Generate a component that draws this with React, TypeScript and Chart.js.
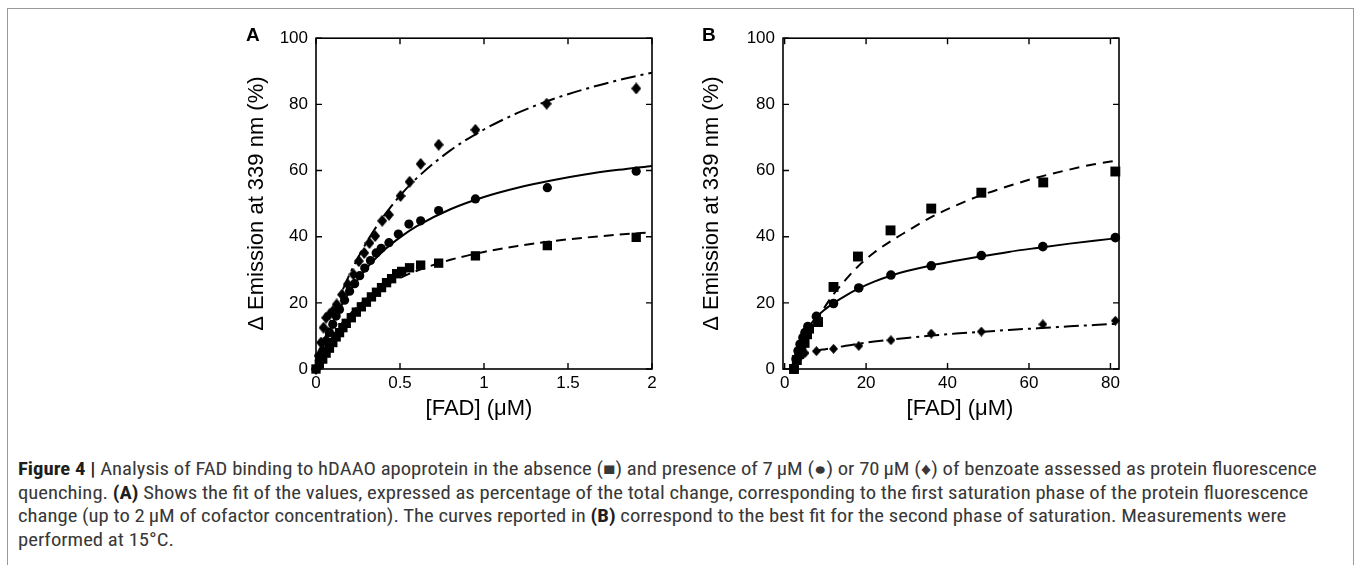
import React, { useEffect, useLayoutEffect, useRef } from "react";
import { Chart, registerables } from "chart.js";

Chart.register(...registerables);

const FONT = '"Liberation Sans", Arial, Helvetica, sans-serif';

// ---- tick labels ----
const Y_TICKS = [0, 20, 40, 60, 80, 100];
const A_X_TICKS = [0, 0.5, 1, 1.5, 2];
const B_X_TICKS = [0, 20, 40, 60, 80];

// ---- Panel A: measured points ----
const A_SQ_X = [0, 0.02, 0.04, 0.06, 0.08, 0.1, 0.12, 0.14, 0.16, 0.18, 0.21, 0.24, 0.27, 0.3, 0.33, 0.36, 0.39, 0.42, 0.45, 0.48, 0.51, 0.557, 0.623, 0.73, 0.949, 1.377, 1.906];
const A_SQ_Y = [0, 1.5, 3, 4.8, 6.3, 8, 9.7, 11, 12.5, 13.8, 15.5, 17.2, 18.8, 20.2, 21.8, 23.2, 24.6, 26.1, 27.3, 28.8, 29.5, 30.6, 31.4, 32.0, 34.2, 37.3, 39.8];

const A_CI_X = [0, 0.02, 0.04, 0.06, 0.08, 0.1, 0.12, 0.14, 0.17, 0.2, 0.23, 0.26, 0.29, 0.324, 0.358, 0.388, 0.434, 0.49, 0.553, 0.623, 0.73, 0.949, 1.377, 1.906];
const A_CI_Y = [0, 2.5, 5.5, 8.5, 11, 13.5, 16, 18, 20.8, 23.5, 25.8, 28.2, 30.5, 32.8, 35.1, 36.5, 38.2, 40.8, 43.8, 44.8, 47.9, 51.4, 54.8, 59.8];

const A_DI_X = [0, 0.015, 0.03, 0.045, 0.06, 0.08, 0.1, 0.123, 0.155, 0.189, 0.223, 0.255, 0.287, 0.318, 0.352, 0.394, 0.434, 0.503, 0.557, 0.623, 0.73, 0.949, 1.373, 1.906];
const A_DI_Y = [0, 4, 8, 12.5, 15.5, 16.5, 17.5, 19.5, 22.5, 25.6, 28.6, 32.6, 35.1, 38.1, 40.2, 44.8, 46.6, 52.3, 56.6, 62, 67.8, 72.3, 80.2, 84.8];

// ---- Panel A: fitted curves ----
const A_FIT_X = [0, 0.05, 0.1, 0.15, 0.2, 0.3, 0.4, 0.5, 0.6, 0.8, 1.0, 1.2, 1.4, 1.6, 1.8, 2.0];
const A_FIT_SQ = [0, 5.5, 9.9, 13.5, 16.5, 21.2, 24.8, 27.5, 29.7, 33.0, 35.4, 37.2, 38.6, 39.7, 40.6, 41.3];
const A_FIT_CI = [0, 7.6, 13.9, 19.0, 23.4, 30.4, 35.7, 39.8, 43.2, 48.3, 52.0, 54.8, 57.0, 58.8, 60.2, 61.4];
const A_FIT_DI = [0, 8.7, 16.3, 22.8, 28.6, 38.2, 46.0, 52.4, 57.7, 66.1, 72.4, 77.4, 81.4, 84.6, 87.3, 89.6];

// ---- Panel B: measured points ----
const B_SQ_X = [2.3, 3.0, 3.6, 4.1, 4.9, 5.5, 6.0, 8.2, 12.0, 18.0, 26.0, 36.0, 48.3, 63.5, 81.2];
const B_SQ_Y = [0, 2.7, 4.5, 5.7, 7.9, 10.5, 12.2, 14.2, 24.8, 34.0, 41.9, 48.5, 53.3, 56.4, 59.7];

const B_CI_X = [2.3, 2.8, 3.3, 3.8, 4.5, 5.0, 5.7, 7.8, 12.0, 18.2, 26.1, 36.0, 48.3, 63.4, 81.2];
const B_CI_Y = [0, 3.0, 5.5, 7.5, 9.5, 11.0, 12.8, 15.9, 19.8, 24.5, 28.4, 31.2, 34.3, 37.0, 39.7];

const B_DI_X = [2.5, 3.2, 4.0, 5.0, 7.8, 12.0, 18.2, 26.1, 36.0, 48.3, 63.4, 81.2];
const B_DI_Y = [1.0, 3.0, 4.0, 4.8, 5.4, 6.1, 7.0, 8.7, 10.7, 11.3, 13.5, 14.6];

// ---- Panel B: fitted curves ----
const B_FIT_X = [2.3, 3, 4, 5, 6, 8, 10, 12, 15, 18, 22, 26, 30, 36, 42, 48, 55, 62, 70, 76, 82.1];
const B_FIT_SQ = [0, 2.4, 5.3, 8, 10.5, 15, 19, 22.6, 27, 31, 35.2, 38.6, 41.6, 45.9, 49.4, 52.4, 55.3, 57.9, 60.3, 61.9, 63.1];
const B_FIT_CI = [0, 3.4, 7.8, 10.6, 12.8, 15.9, 18.1, 19.9, 22.2, 24.2, 26.4, 28.2, 29.6, 31.3, 32.7, 34.0, 35.4, 36.6, 37.9, 38.8, 39.6];
const B_FIT_DI = [0, 2.2, 3.8, 4.6, 5.0, 5.6, 6.0, 6.4, 7.0, 7.6, 8.3, 8.9, 9.4, 10.1, 10.7, 11.2, 11.8, 12.3, 12.9, 13.3, 13.7];

const X_TITLE = "[FAD] (\u03bcM)";
const Y_TITLE = "\u0394 Emission at 339 nm (%)";

const zip = (xs: number[], ys: number[]) => xs.map((x, i) => ({ x, y: ys[i] }));

function diamondImage(w: number, h: number) {
  const c = document.createElement("canvas");
  c.width = w;
  c.height = h;
  const g = c.getContext("2d")!;
  g.fillStyle = "#000";
  g.beginPath();
  g.moveTo(w / 2, 0);
  g.lineTo(w, h / 2);
  g.lineTo(w / 2, h);
  g.lineTo(0, h / 2);
  g.closePath();
  g.fill();
  return c;
}

const boxPlugin = {
  id: "boxTicks",
  afterDatasetsDraw(chart: any, _args: any, opts: any) {
    const { ctx, chartArea } = chart;
    const { left, right, top, bottom } = chartArea;
    const xs = chart.scales.x;
    const ys = chart.scales.y;
    ctx.save();
    ctx.strokeStyle = "#000";
    ctx.lineWidth = 1.6;
    ctx.strokeRect(left, top, right - left, bottom - top);
    ctx.beginPath();
    ctx.lineWidth = 1.4;
    const L = 6;
    xs.ticks.forEach((t: any) => {
      const p = xs.getPixelForValue(t.value);
      ctx.moveTo(p, bottom);
      ctx.lineTo(p, bottom - L);
      ctx.moveTo(p, top);
      ctx.lineTo(p, top + L);
    });
    ys.ticks.forEach((t: any) => {
      const p = ys.getPixelForValue(t.value);
      ctx.moveTo(left, p);
      ctx.lineTo(left + L, p);
      ctx.moveTo(right, p);
      ctx.lineTo(right - L, p);
    });
    ctx.stroke();
    // x-axis title
    ctx.fillStyle = "#000";
    ctx.font = `22px ${FONT}`;
    ctx.textAlign = "center";
    ctx.textBaseline = "middle";
    ctx.fillText(opts.text, (left + right) / 2 + (opts.dx || 0), bottom + 40);
    ctx.restore();
  },
};

type PanelProps = {
  left: number;
  top: number;
  xMin: number;
  xMax: number;
  xTicks: number[];
  sq: { x: number; y: number }[];
  ci: { x: number; y: number }[];
  di: { x: number; y: number }[];
  fitSq: { x: number; y: number }[];
  fitCi: { x: number; y: number }[];
  fitDi: { x: number; y: number }[];
  sqR: number;
  ciR: number;
  diW: number;
  diH: number;
  ytitlePad: number;
  xTitleDx: number;
  sqDash: number[];
  diDash: number[];
};

function Panel(p: PanelProps) {
  const ref = useRef<HTMLCanvasElement>(null);
  useEffect(() => {
    if (!ref.current) return;
    const dImg = diamondImage(p.diW, p.diH);
    const pointDs = (data: any, style: any, r: number) => ({
      data,
      showLine: false,
      pointStyle: style,
      pointRadius: r,
      pointHoverRadius: r,
      backgroundColor: "#000",
      borderColor: "#000",
      borderWidth: 0,
      clip: false as any,
    });
    const lineDs = (data: any, dash: number[]) => ({
      data,
      showLine: true,
      borderColor: "#000",
      borderWidth: 2,
      borderDash: dash,
      pointRadius: 0,
      pointHoverRadius: 0,
      fill: false,
      cubicInterpolationMode: "monotone" as const,
    });
    const chart = new Chart(ref.current, {
      type: "scatter",
      data: {
        datasets: [
          pointDs(p.sq, "rect", p.sqR),
          pointDs(p.ci, "circle", p.ciR),
          pointDs(p.di, dImg, 5),
          lineDs(p.fitSq, p.sqDash),
          lineDs(p.fitCi, []),
          lineDs(p.fitDi, p.diDash),
        ] as any,
      },
      options: {
        animation: false,
        responsive: false,
        maintainAspectRatio: false,
        events: [],
        layout: { padding: { top: 15, right: 18, left: 0, bottom: 0 } },
        plugins: {
          legend: { display: false },
          tooltip: { enabled: false },
          boxTicks: { text: X_TITLE, dx: p.xTitleDx },
        } as any,
        scales: {
          x: {
            type: "linear",
            min: p.xMin,
            max: p.xMax,
            grid: { display: false, drawTicks: false },
            border: { display: false },
            afterBuildTicks: (s: any) => {
              s.ticks = p.xTicks.map((v) => ({ value: v }));
            },
            afterFit: (s: any) => {
              s.height = 61;
            },
            ticks: {
              color: "#000",
              font: { size: 17, family: FONT },
              padding: 4,
              maxRotation: 0,
              autoSkip: false,
              callback: (v: any) => String(v),
            },
            title: { display: false },
          },
          y: {
            type: "linear",
            min: 0,
            max: 100,
            grid: { display: false, drawTicks: false },
            border: { display: false },
            afterBuildTicks: (s: any) => {
              s.ticks = Y_TICKS.map((v) => ({ value: v }));
            },
            afterFit: (s: any) => {
              s.width = 86;
            },
            ticks: {
              color: "#000",
              font: { size: 17, family: FONT },
              padding: 8,
              autoSkip: false,
              callback: (v: any) => String(v),
            },
            title: {
              display: true,
              text: Y_TITLE,
              color: "#000",
              font: { size: 22, family: FONT },
              padding: { top: p.ytitlePad, bottom: 0 },
            },
          },
        },
      },
      plugins: [boxPlugin as any],
    });
    return () => chart.destroy();
  }, []);
  return (
    <canvas
      ref={ref}
      width={440}
      height={410}
      style={{ position: "absolute", left: p.left, top: p.top, width: 440, height: 410 }}
    />
  );
}

const CAP_FONT = '"Liberation Sans Narrow", "Roboto Condensed", Roboto, "Liberation Sans", sans-serif';

function Caption() {
  const refs = useRef<(HTMLSpanElement | null)[]>([]);
  useLayoutEffect(() => {
    const fit = () => {
      const first = refs.current[0];
      if (!first) return;
      refs.current.forEach((el) => el && (el.style.transform = "none"));
      const natural = first.offsetWidth;
      const s = 1299 / natural;
      refs.current.forEach((el) => el && (el.style.transform = `scaleX(${s})`));
    };
    fit();
    if ((document as any).fonts?.ready) (document as any).fonts.ready.then(fit);
  }, []);
  const lineStyle = (i: number): React.CSSProperties => ({
    position: "absolute",
    left: 18,
    top: 458 + i * 23.7,
    height: 23,
    lineHeight: "23px",
    whiteSpace: "nowrap",
    display: "inline-block",
    transformOrigin: "0 0",
    fontFamily: CAP_FONT,
    fontSize: 17.5,
    color: "#383838",
  });
  const b: React.CSSProperties = { fontWeight: "bold", color: "#1e1e1e" };
  return (
    <>
      <span ref={(el) => { refs.current[0] = el; }} style={lineStyle(0)}>
        <span style={b}>Figure 4 |</span> Analysis of FAD binding to hDAAO apoprotein in the absence (■) and presence of 7&#8201;μM (●) or 70&#8201;μM (♦) of benzoate assessed as protein fluorescence
      </span>
      <span ref={(el) => { refs.current[1] = el; }} style={lineStyle(1)}>
        quenching. <span style={b}>(A)</span> Shows the fit of the values, expressed as percentage of the total change, corresponding to the first saturation phase of the protein fluorescence
      </span>
      <span ref={(el) => { refs.current[2] = el; }} style={lineStyle(2)}>
        change (up to 2&#8201;μM of cofactor concentration). The curves reported in <span style={b}>(B)</span> correspond to the best fit for the second phase of saturation. Measurements were
      </span>
      <span ref={(el) => { refs.current[3] = el; }} style={lineStyle(3)}>
        performed at 15°C.
      </span>
    </>
  );
}

export default function App() {
  const label: React.CSSProperties = {
    position: "absolute",
    top: 25,
    fontFamily: FONT,
    fontWeight: "bold",
    fontSize: 19,
    lineHeight: "20px",
    color: "#000",
  };
  return (
    <div style={{ position: "fixed", left: 0, top: 0, width: 1357, height: 565, overflow: "hidden", background: "#fff" }}>
      <div
        style={{
          position: "absolute",
          left: 7,
          top: 8,
          width: 1347,
          height: 600,
          border: "1px solid #9a9a9a",
          boxSizing: "border-box",
        }}
      />
      <Panel
        left={230}
        top={20}
        xMin={0}
        xMax={2}
        xTicks={A_X_TICKS}
        sq={zip(A_SQ_X, A_SQ_Y)}
        ci={zip(A_CI_X, A_CI_Y)}
        di={zip(A_DI_X, A_DI_Y)}
        fitSq={zip(A_FIT_X, A_FIT_SQ)}
        fitCi={zip(A_FIT_X, A_FIT_CI)}
        fitDi={zip(A_FIT_X, A_FIT_DI)}
        sqR={6.6}
        ciR={4.6}
        diW={10}
        diH={12}
        ytitlePad={14}
        xTitleDx={-5}
        sqDash={[10, 6]}
        diDash={[15, 5, 3, 5]}
      />
      <Panel
        left={697}
        top={20}
        xMin={-0.4}
        xMax={82.1}
        xTicks={B_X_TICKS}
        sq={zip(B_SQ_X, B_SQ_Y)}
        ci={zip(B_CI_X, B_CI_Y)}
        di={zip(B_DI_X, B_DI_Y)}
        fitSq={zip(B_FIT_X, B_FIT_SQ)}
        fitCi={zip(B_FIT_X, B_FIT_CI)}
        fitDi={zip(B_FIT_X, B_FIT_DI)}
        sqR={7}
        ciR={4.8}
        diW={9}
        diH={10}
        ytitlePad={2}
        xTitleDx={9}
        sqDash={[10, 7]}
        diDash={[15, 5, 3, 5]}
      />
      <div style={{ ...label, left: 246 }}>A</div>
      <div style={{ ...label, left: 702 }}>B</div>
      <Caption />
    </div>
  );
}
